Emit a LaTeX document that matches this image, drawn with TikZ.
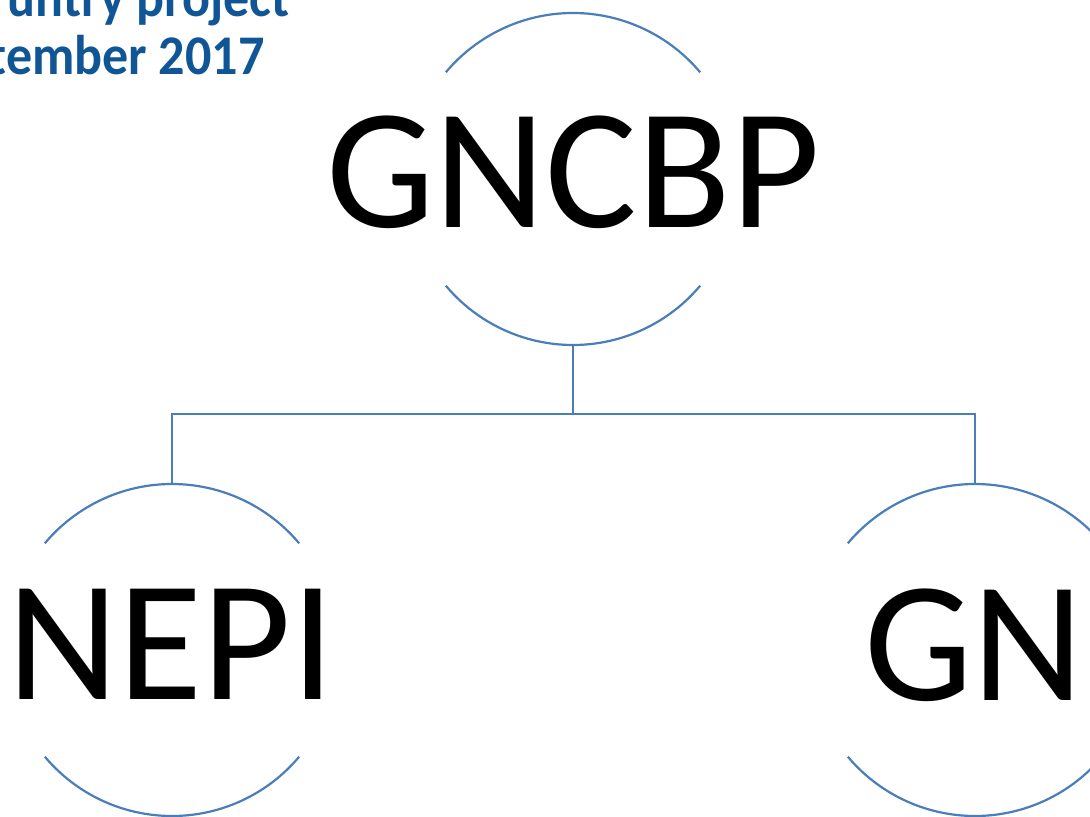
\documentclass[tikz,border=0pt]{standalone}
\usepackage{fontspec}
\setmainfont{Carlito}
\usepackage{xcolor}
\definecolor{linkblue}{RGB}{74,126,187}
\definecolor{titleblue}{RGB}{16,86,150}

\begin{document}
\begin{tikzpicture}[x=0.5pt, y=-0.5pt,
    ring/.style={circle, draw=none, minimum size=166pt, inner sep=0pt, outer sep=0pt},
    bigword/.style={font=\fontsize{86}{90}\selectfont, inner sep=0pt},
    headline/.style={font=\fontsize{28}{30}\selectfont\bfseries, text=titleblue, inner sep=0pt, anchor=base east, xscale=0.93},
    link/.style={draw=linkblue, line width=1.1pt}]
    \useasboundingbox (0,0) rectangle (1090,817);
    \clip (0,0) rectangle (1090,817);
    % Title (cut off)
    \node[headline] (head1) at (290,17) {untry project};
    \node[headline] (head2) at (265,75) {tember 2017};
    % Rings
    \node[ring] (gncbp) at (573,179) {};
    \node[ring] (nepi) at (172,650) {};
    \node[ring] (gn) at (975,650) {};
    % Words
    \node[bigword, anchor=base] (gncbpT) at (573,228) {GNCBP};
    \node[bigword, anchor=base] (nepiT) at (171,699) {NEPI};
    \node[bigword, anchor=base west] (gnT) at (864,700) {GN};
    % Arcs
    \foreach \r in {gncbp, nepi, gn} {
        \draw[link] (\r.40) arc[start angle=40, end angle=140, radius=83pt];
        \draw[link] (\r.220) arc[start angle=220, end angle=320, radius=83pt];
    }
    % Tree lines
    \coordinate (split) at (573,414);
    \draw[link] (gncbp.south) -- (split);
    \draw[link] (nepi.north) |- (split) -| (gn.north);
\end{tikzpicture}
\end{document}
